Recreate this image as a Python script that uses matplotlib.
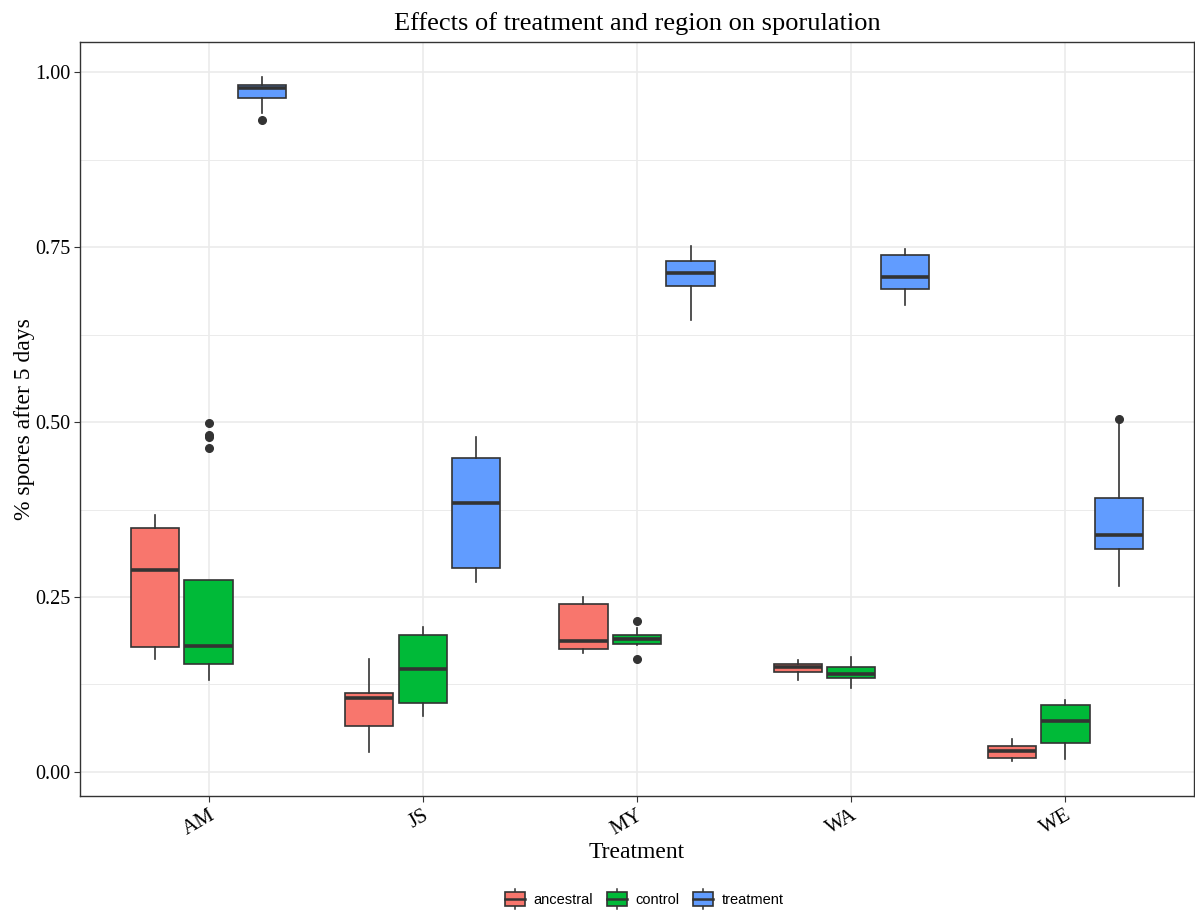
import matplotlib
matplotlib.use("Agg")
import matplotlib.pyplot as plt
from matplotlib.legend_handler import HandlerBase
from matplotlib.patches import Rectangle
from matplotlib.lines import Line2D
from matplotlib.ticker import MultipleLocator

regions = ["AM", "JS", "MY", "WA", "WE"]
groups = ["ancestral", "control", "treatment"]
colors = ["#F8766D", "#00BA38", "#619CFF"]

# box summaries, one value per region
ancestral_whislo = [0.162, 0.029, 0.170, 0.131, 0.016]
ancestral_q1 = [0.179, 0.065, 0.176, 0.143, 0.0205]
ancestral_med = [0.289, 0.106, 0.1876, 0.1495, 0.0295]
ancestral_q3 = [0.348, 0.113, 0.240, 0.154, 0.037]
ancestral_whishi = [0.367, 0.162, 0.250, 0.160, 0.0467]
ancestral_fliers = [[], [], [], [], []]

control_whislo = [0.131, 0.080, 0.181, 0.1195, 0.0186]
control_q1 = [0.154, 0.098, 0.183, 0.134, 0.0414]
control_med = [0.180, 0.147, 0.1895, 0.1395, 0.0724]
control_q3 = [0.274, 0.196, 0.195, 0.150, 0.0957]
control_whishi = [0.274, 0.207, 0.205, 0.164, 0.103]
control_fliers = [[0.498, 0.482, 0.478, 0.463], [], [0.215, 0.162], [], []]

treatment_whislo = [0.942, 0.271, 0.646, 0.667, 0.266]
treatment_q1 = [0.963, 0.292, 0.695, 0.690, 0.318]
treatment_med = [0.977, 0.384, 0.713, 0.707, 0.339]
treatment_q3 = [0.982, 0.449, 0.730, 0.738, 0.392]
treatment_whishi = [0.993, 0.478, 0.751, 0.747, 0.502]
treatment_fliers = [[0.931], [], [], [], [0.505]]

series = {
    "ancestral": (ancestral_whislo, ancestral_q1, ancestral_med, ancestral_q3, ancestral_whishi, ancestral_fliers),
    "control": (control_whislo, control_q1, control_med, control_q3, control_whishi, control_fliers),
    "treatment": (treatment_whislo, treatment_q1, treatment_med, treatment_q3, treatment_whishi, treatment_fliers),
}

edge = "#333333"
serif = "Liberation Serif"

fig = plt.figure(figsize=(11.95, 9.11), dpi=100)
ax = fig.add_axes([80 / 1195, 1 - 796 / 911, 1114 / 1195, 754 / 911])

offsets = [-0.25, 0.0, 0.25]
for g, (name, color) in enumerate(zip(groups, colors)):
    lo, q1, med, q3, hi, fl = series[name]
    stats = []
    for i in range(len(regions)):
        stats.append({"whislo": lo[i], "q1": q1[i], "med": med[i],
                      "q3": q3[i], "whishi": hi[i], "fliers": fl[i]})
    positions = [i + 1 + offsets[g] for i in range(len(regions))]
    ax.bxp(stats, positions=positions, widths=0.225, patch_artist=True,
           showcaps=False, manage_ticks=False,
           boxprops=dict(facecolor=color, edgecolor=edge, linewidth=1.2),
           medianprops=dict(color=edge, linewidth=2.6, solid_capstyle="butt"),
           whiskerprops=dict(color=edge, linewidth=1.2),
           flierprops=dict(marker="o", markerfacecolor=edge, markeredgecolor=edge,
                           markersize=5.5, linestyle="none"))

ax.set_xlim(0.4, 5.6)
ax.set_ylim(-0.0343, 1.0429)
ax.set_xticks(range(1, len(regions) + 1))
ax.set_xticklabels(regions, rotation=30, ha="right", va="top",
                   rotation_mode="anchor", fontfamily=serif, fontsize=15)
ax.yaxis.set_major_locator(MultipleLocator(0.25))
ax.yaxis.set_minor_locator(MultipleLocator(0.125))
ax.set_yticklabels([f"{v:.2f}" for v in ax.get_yticks()], fontfamily=serif, fontsize=14.5)
ax.set_ylim(-0.0343, 1.0429)
ax.tick_params(axis="both", which="major", length=4, color=edge, pad=3)
ax.tick_params(axis="y", which="minor", length=0)

ax.set_axisbelow(True)
ax.grid(True, which="major", color="#EBEBEB", linewidth=1.2)
ax.grid(True, which="minor", axis="y", color="#EBEBEB", linewidth=0.7)
for s in ax.spines.values():
    s.set_color("#333333")
    s.set_linewidth(1.0)

ax.set_title("Effects of treatment and region on sporulation", fontfamily=serif,
             fontsize=19, pad=9)
ax.set_xlabel("Treatment", fontfamily=serif, fontsize=17, labelpad=2)
ax.set_ylabel("% spores after 5 days", fontfamily=serif, fontsize=17, labelpad=0)


class BoxKey(HandlerBase):
    # legend key drawn like a small boxplot
    def create_artists(self, legend, orig_handle, xdescent, ydescent,
                       width, height, fontsize, trans):
        color = orig_handle.get_facecolor()
        bw, bh = 14.5, 10
        x0 = (width - bw) / 2 - xdescent
        y0 = (height - bh) / 2 - ydescent
        xm = x0 + bw / 2
        art = [
            Line2D([xm, xm], [y0 - 2.3, y0 + bh + 2.3], color=edge, lw=1.1, transform=trans),
            Rectangle((x0, y0), bw, bh, facecolor=color, edgecolor=edge, lw=1.2, transform=trans),
            Line2D([x0, x0 + bw], [y0 + bh / 2, y0 + bh / 2], color=edge, lw=1.8, transform=trans),
        ]
        return art


handles = [Rectangle((0, 0), 1, 1, facecolor=c) for c in colors]
fig.legend(handles, groups, handler_map={Rectangle: BoxKey()}, loc="center",
           bbox_to_anchor=(644 / 1195, 1 - 899 / 911), ncol=3, frameon=False,
           prop={"family": "Liberation Sans", "size": 10.5},
           handlelength=1.5, handleheight=1.3, handletextpad=0.55, columnspacing=0.85)

fig.savefig("out.png", dpi=100)
